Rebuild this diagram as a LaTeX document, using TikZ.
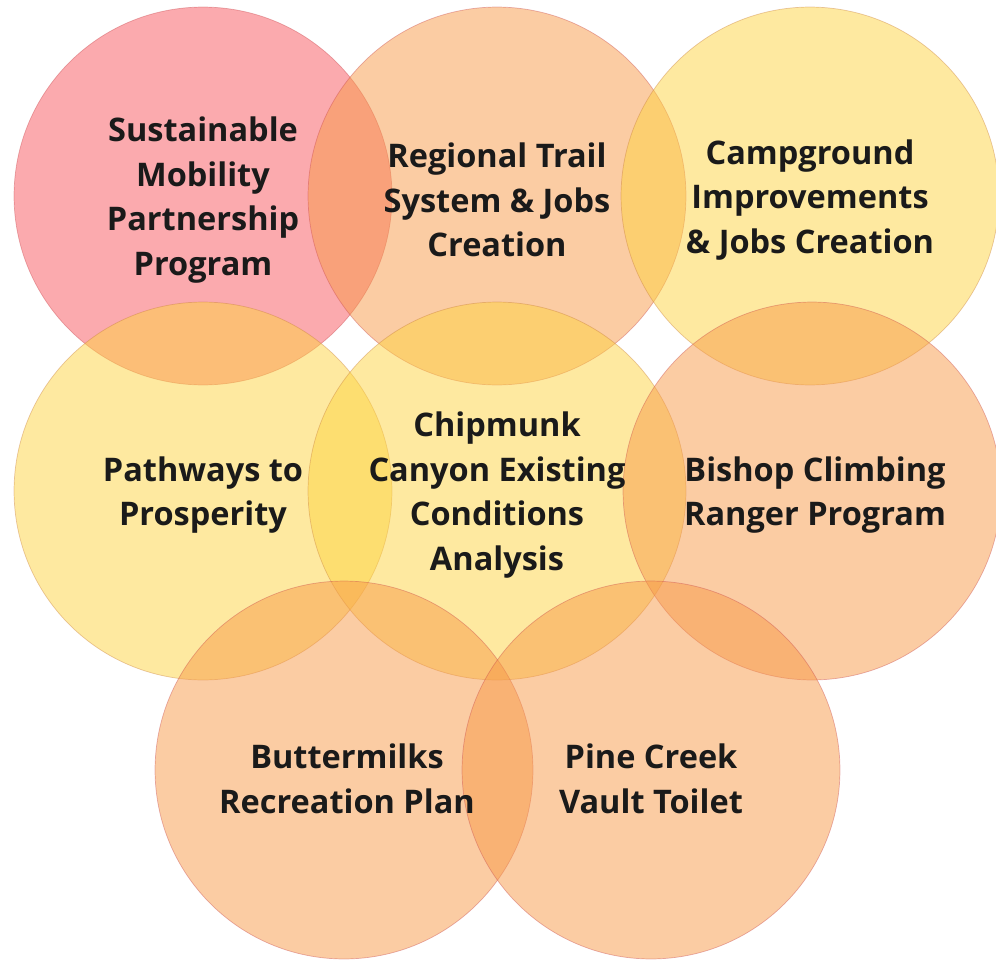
\documentclass[tikz,border=0pt]{standalone}
\usepackage{fontspec}
\setmainfont{Open Sans}
\usetikzlibrary{positioning}
\definecolor{rosy}{HTML}{F7555D}
\definecolor{apricot}{HTML}{F79947}
\definecolor{sunny}{HTML}{FDD341}
\definecolor{ink}{HTML}{1A1A1A}

\begin{document}
\begin{tikzpicture}[x=0.02cm, y=-0.02cm,
    blob/.style={circle, minimum size=7.56cm, inner sep=0pt,
        fill opacity=0.5, draw opacity=0.4, line width=0.4pt},
    pinkblob/.style={blob, fill=rosy, draw=rosy!80!black},
    orangeblob/.style={blob, fill=apricot, draw=rosy!80!black},
    yellowblob/.style={blob, fill=sunny, draw=apricot!80!black},
    lbl/.style={align=center, text=ink, yshift=-0.08cm,
        font=\fontsize{18.5}{25.5}\selectfont\bfseries},
]
\useasboundingbox (0,0) rectangle (996,960);

% Circles
\node[pinkblob]   (mobility) at (203,196) {};
\node[orangeblob] (trail)    at (497,196) {};
\node[yellowblob] (camp)     at (810,196) {};
\node[yellowblob] (pathways) at (203,491) {};
\node[yellowblob] (chipmunk) at (497,491) {};
\node[orangeblob] (bishop)   at (812,491) {};
\node[orangeblob] (butter)   at (344,770) {};
\node[orangeblob] (pine)     at (651,770) {};

% Labels
\node[lbl] (mobilitytxt) at (mobility) {Sustainable\\Mobility\\Partnership\\Program};
\node[lbl] (trailtxt)    at (trail)    {Regional Trail\\System \& Jobs\\Creation};
\node[lbl] (camptxt)     at (camp)     {Campground\\Improvements\\\& Jobs Creation};
\node[lbl] (pathwaystxt) at (pathways) {Pathways to\\Prosperity};
\node[lbl] (chipmunktxt) at (chipmunk) {Chipmunk\\Canyon Existing\\Conditions\\Analysis};
\node[lbl] (bishoptxt)   at (815,491)  {Bishop Climbing\\Ranger Program};
\node[lbl] (buttertxt)   at (347,775)  {Buttermilks\\Recreation Plan};
\node[lbl] (pinetxt)     at (651,775)  {Pine Creek\\Vault Toilet};
\end{tikzpicture}
\end{document}
